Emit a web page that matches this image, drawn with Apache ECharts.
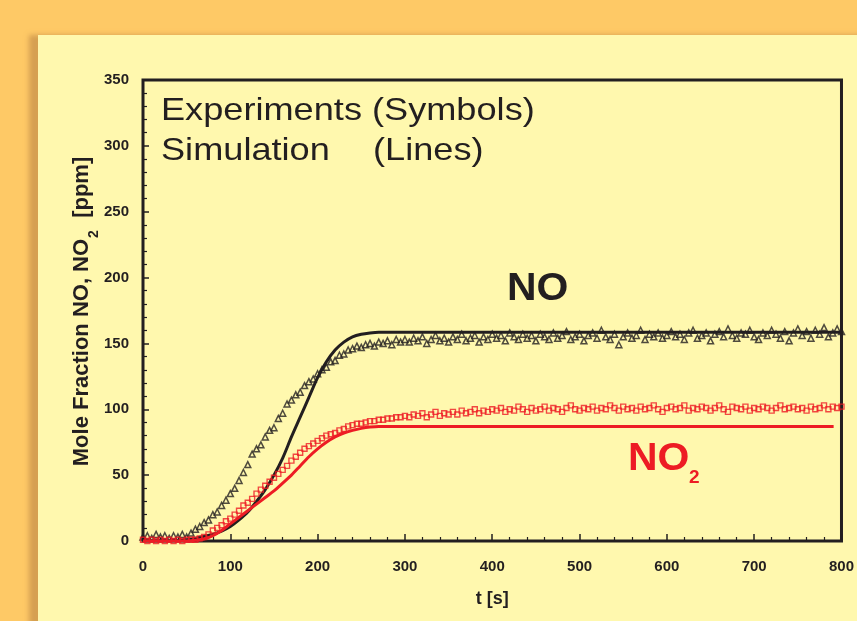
<!DOCTYPE html>
<html>
<head>
<meta charset="utf-8">
<script src="https://cdn.jsdelivr.net/npm/echarts@6/dist/echarts.min.js"></script>
<style>
  html, body { margin: 0; padding: 0; background: #FEC966; }
  #chart { width: 857px; height: 621px; }
</style>
</head>
<body>
<div id="chart"></div>
<script>
// experiment sampling: every 5 s from 0 to 800
var expStep = 5;
// NO experiment (triangles)
var noExp = [
  3,4,2,5,3,4,2,4,3,5,3,
  6,9,11,14,16,20,22,27,31,36,
  40,46,52,58,66,70,73,79,84,86,
  93,97,104,107,111,113,118,121,123,127,
  130,132,136,137,141,142,145,146,148,147,
  149,150,148,151,150,152,149,153,151,153,
  151,154,152,155,150,153,156,152,154,151,
  155,153,157,152,154,156,151,155,153,157,
  154,156,152,158,155,153,157,154,156,152,
  157,155,153,158,154,156,159,153,155,157,
  152,156,158,154,160,155,153,157,149,155,
  158,154,156,160,153,157,155,158,154,156,
  159,155,157,153,158,160,154,156,158,152,
  157,159,155,161,156,154,158,157,160,155,
  153,158,156,160,157,154,159,152,158,161,
  156,159,154,160,157,162,155,158,161,159
];
// NO2 experiment (squares)
var no2Exp = [
  1,0,1,0,1,0,1,0,1,0,1,
  1,1,2,3,5,8,10,12,15,17,
  20,23,27,29,32,36,39,42,45,48,
  51,54,57,61,64,67,70,72,74,76,
  78,80,81,82,84,85,87,88,89,89,
  90,91,91,92,92,93,93,94,94,95,
  94,96,95,97,94,96,98,95,97,96,
  98,96,99,97,98,100,97,99,98,100,
  99,101,98,100,99,102,100,98,101,99,
  100,102,99,101,100,98,101,103,100,99,
  101,100,102,99,101,100,103,101,99,102,
  100,101,99,102,100,101,103,100,98,101,
  102,100,101,103,99,101,100,102,101,99,
  101,103,100,98,102,101,100,102,99,101,
  100,102,101,99,101,103,100,101,102,100,
  101,99,102,100,101,103,100,102,101,102
];
// simulation curves
var noSimT = [0,40,50,60,70,80,90,100,110,120,130,140,150,160,170,180,190,200,210,220,230,240,250,260,270,290,800];
var noSimV = [0,0.3,1,2,3.5,5,7.5,11,16,22,30,39,50,63,79,94,109,124,136,145,151,155,157,158,158.5,158.5,158.5];
var no2SimT = [0,50,60,70,80,90,100,110,120,130,140,150,160,170,180,190,200,210,220,230,240,250,260,270,791];
var no2SimV = [0,0,0.5,1.5,4,8,13,18,23,28,33,38,44,50,57,64,70,75,79,82,84,85.5,86.5,87,87];
var xTicks = [0,100,200,300,400,500,600,700,800];
var yTicks = [0,50,100,150,200,250,300,350];

var ink = "#231F20";
var red = "#ED1C24";
var fam = "Liberation Sans, Arial, Helvetica, sans-serif";

window.onload = init;

function pairs(t, v) {
  var out = [];
  for (var i = 0; i < v.length; i++) out.push([t[i], v[i]]);
  return out;
}
function expPairs(v) {
  var out = [];
  for (var i = 0; i < v.length; i++) out.push([i * expStep, v[i]]);
  return out;
}
function textW(str, font) {
  var ctx = document.createElement("canvas").getContext("2d");
  ctx.font = font;
  return ctx.measureText(str).width;
}

function init() {
  var chart = echarts.init(document.getElementById("chart"));

  // y axis title pieces, rotated group
  var fA = "bold 22px " + fam, fS = "bold 14px " + fam;
  var s1 = "Mole Fraction NO, NO", s2 = "2", s3 = "  [ppm]";
  var w1 = textW(s1, fA), w2 = textW(s2, fS), w3 = textW(s3, fA);
  var total = w1 + w2 + w3;

  var option = {
    backgroundColor: "#FEC966",
    animation: false,
    grid: {
      left: 143, right: 14, top: 80, bottom: 80,
      show: true, borderColor: ink, borderWidth: 3,
      backgroundColor: "transparent"
    },
    xAxis: {
      type: "value", min: xTicks[0], max: xTicks[xTicks.length - 1], interval: 100,
      axisLine: { show: false },
      axisTick: { inside: true, length: 7, lineStyle: { color: ink, width: 1.5 } },
      minorTick: { show: true, splitNumber: 5, length: 4, lineStyle: { color: ink, width: 1.2 } },
      splitLine: { show: false },
      axisLabel: { margin: 18, color: ink, fontSize: 15, fontWeight: "bold", fontFamily: fam },
      name: "t [s]", nameLocation: "middle", nameGap: 49,
      nameTextStyle: { color: ink, fontSize: 18, fontWeight: "bold", fontFamily: fam }
    },
    yAxis: {
      type: "value", min: yTicks[0], max: yTicks[yTicks.length - 1], interval: 50,
      axisLine: { show: false },
      axisTick: { inside: true, length: 6, lineStyle: { color: ink, width: 1.5 } },
      minorTick: { show: true, splitNumber: 5, length: 4, lineStyle: { color: ink, width: 1.2 } },
      splitLine: { show: false },
      axisLabel: { margin: 14, color: ink, fontSize: 15, fontWeight: "bold", fontFamily: fam }
    },
    series: [
      {
        name: "NO sim", type: "line", data: pairs(noSimT, noSimV),
        showSymbol: false, smooth: 0.3, lineStyle: { color: ink, width: 3 }, z: 3
      },
      {
        name: "NO exp", type: "scatter", data: expPairs(noExp),
        symbol: "triangle", symbolSize: 6,
        itemStyle: { color: "rgba(0,0,0,0)", borderColor: ink, borderWidth: 1.5 }, z: 4
      },
      {
        name: "NO2 exp", type: "scatter", data: expPairs(no2Exp),
        symbol: "rect", symbolSize: 5,
        itemStyle: { color: "rgba(0,0,0,0)", borderColor: red, borderWidth: 1.4 }, z: 4
      },
      {
        name: "NO2 sim", type: "line", data: pairs(no2SimT, no2SimV),
        showSymbol: false, smooth: 0.3, lineStyle: { color: red, width: 3 }, z: 5
      }
    ],
    graphic: [
      {
        type: "rect", z: -10, silent: true,
        shape: { x: 38, y: 35, width: 840, height: 610 },
        style: { fill: "#FFF8AE", shadowBlur: 5, shadowColor: "rgba(200,145,75,0.75)", shadowOffsetX: -9 }
      },
      {
        type: "text", x: 161, y: 111, scaleX: 1.13, z: 10,
        style: { text: "Experiments (Symbols)", font: "32px " + fam, fill: ink, textAlign: "left", textVerticalAlign: "middle" }
      },
      {
        type: "text", x: 161, y: 151, scaleX: 1.13, z: 10,
        style: { text: "Simulation", font: "32px " + fam, fill: ink, textAlign: "left", textVerticalAlign: "middle" }
      },
      {
        type: "text", x: 373, y: 151, scaleX: 1.13, z: 10,
        style: { text: "(Lines)", font: "32px " + fam, fill: ink, textAlign: "left", textVerticalAlign: "middle" }
      },
      {
        type: "text", x: 507, y: 289, scaleX: 1.05, z: 10,
        style: { text: "NO", font: "bold 39px " + fam, fill: ink, textAlign: "left", textVerticalAlign: "middle" }
      },
      {
        type: "text", x: 628, y: 459, scaleX: 1.05, z: 10,
        style: { text: "NO", font: "bold 39px " + fam, fill: red, textAlign: "left", textVerticalAlign: "middle" }
      },
      {
        type: "text", x: 689, y: 478, z: 10,
        style: { text: "2", font: "bold 19px " + fam, fill: red, textAlign: "left", textVerticalAlign: "middle" }
      },
      {
        // rotated y axis title
        type: "group", x: 90, y: 312 + total / 2, rotation: Math.PI / 2, z: 10,
        children: [
          { type: "text", x: 0, y: -8, style: { text: s1, font: fA, fill: ink, textAlign: "left", textVerticalAlign: "middle" } },
          { type: "text", x: w1 + 1, y: 4, style: { text: s2, font: fS, fill: ink, textAlign: "left", textVerticalAlign: "middle" } },
          { type: "text", x: w1 + w2 + 1, y: -8, style: { text: s3, font: fA, fill: ink, textAlign: "left", textVerticalAlign: "middle" } }
        ]
      }
    ]
  };
  chart.setOption(option);
}
</script>
</body>
</html>
